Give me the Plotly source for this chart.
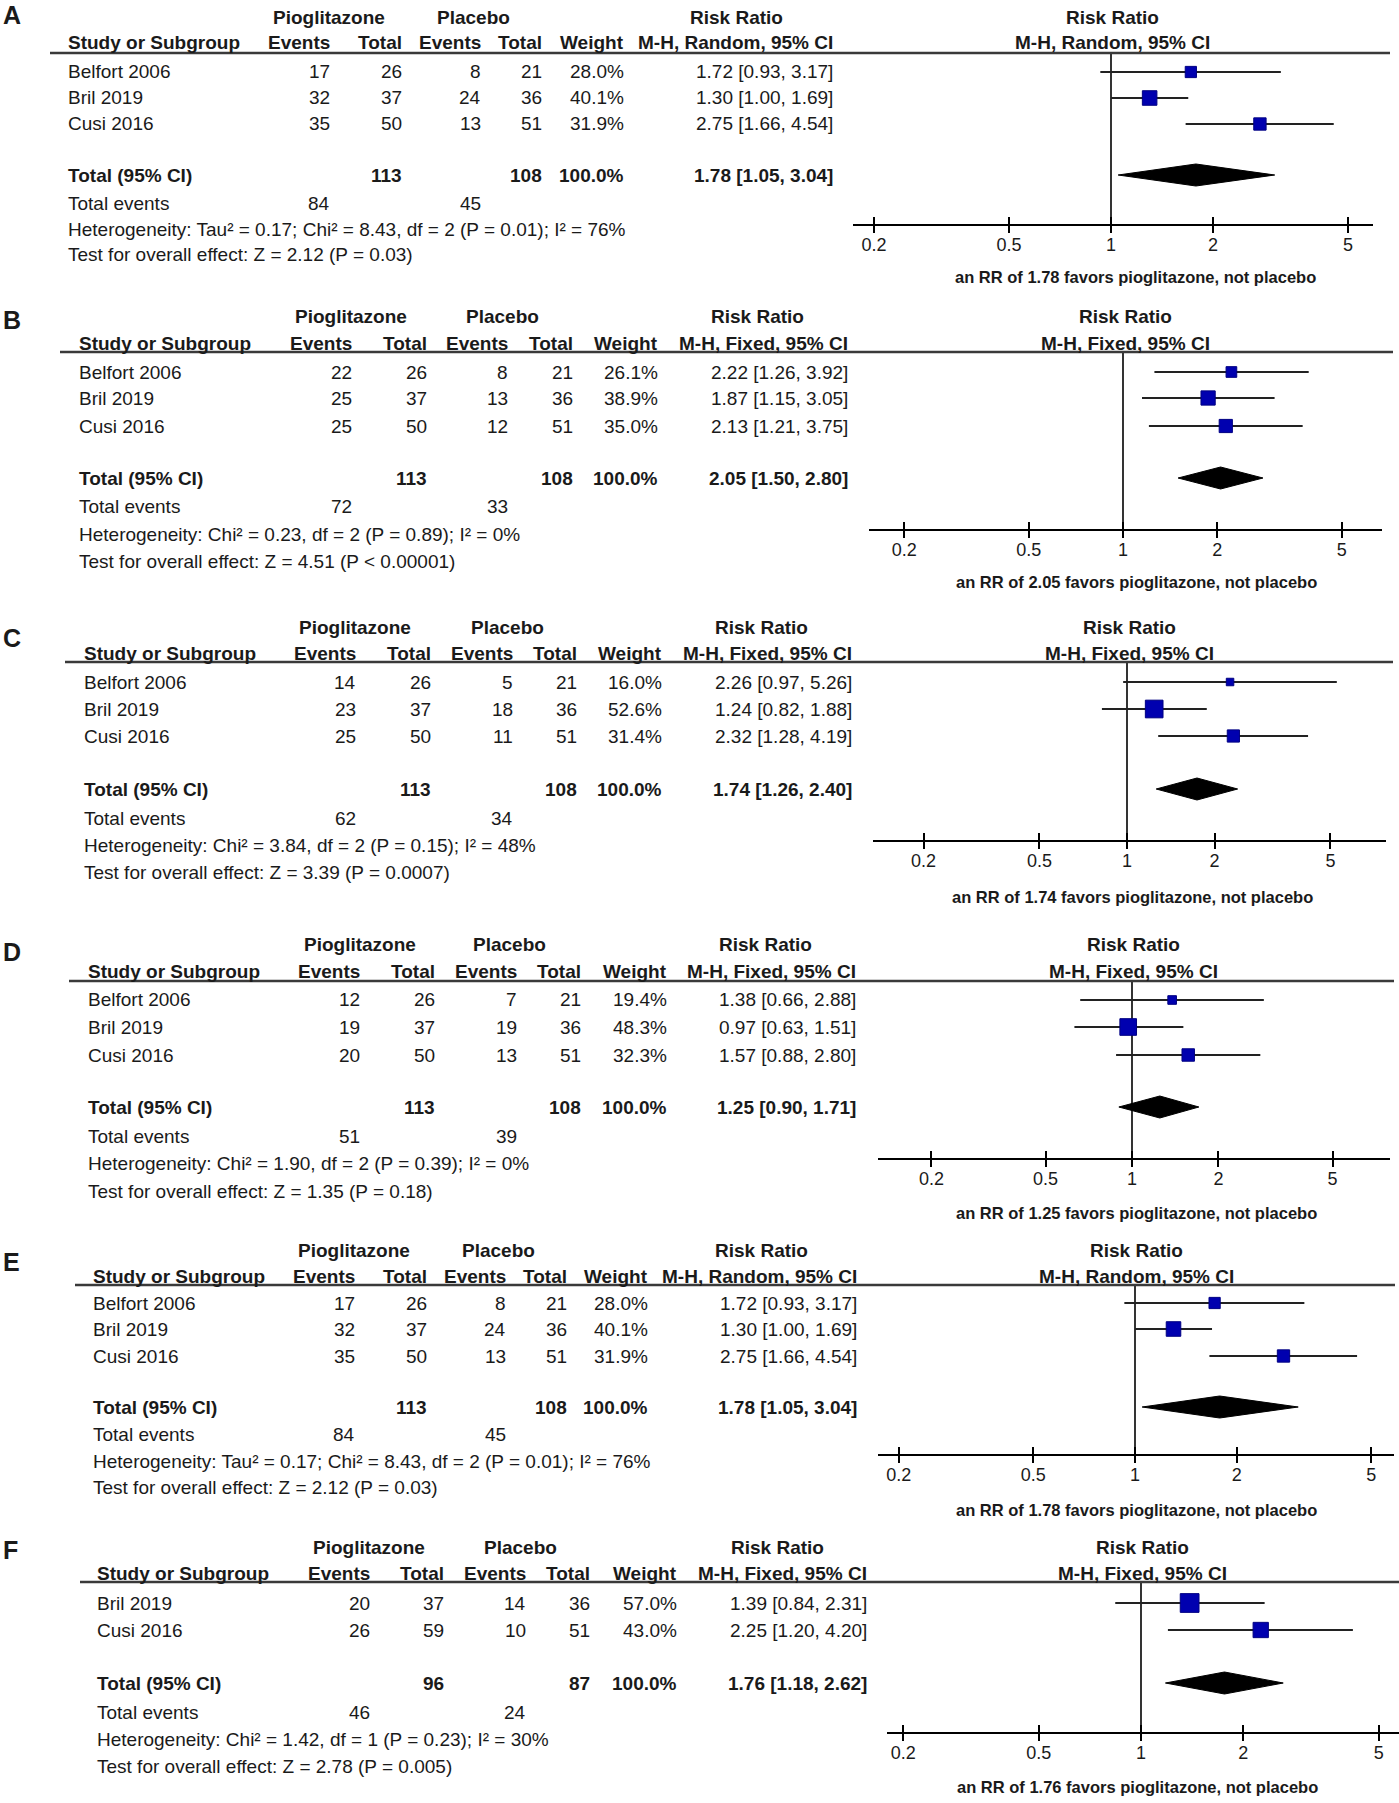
import plotly.graph_objects as go

W, H = 1399, 1803

# ------------------------------------------------------------------ data
tick_vals = [0.2, 0.5, 1, 2, 5]
tick_text = ["0.2", "0.5", "1", "2", "5"]

# Panel A
studies_A = ["Belfort 2006", "Bril 2019", "Cusi 2016"]
pio_events_A = [17, 32, 35]
pio_total_A = [26, 37, 50]
plc_events_A = [8, 24, 13]
plc_total_A = [21, 36, 51]
weight_A = [28.0, 40.1, 31.9]
rr_A = [1.72, 1.30, 2.75]
rr_lo_A = [0.93, 1.00, 1.66]
rr_hi_A = [3.17, 1.69, 4.54]
pooled_A = [1.78, 1.05, 3.04]
sums_A = [113, 108]
events_A = [84, 45]
method_A = "M-H, Random, 95% CI"
het_A = "Heterogeneity: Tau² = 0.17; Chi² = 8.43, df = 2 (P = 0.01); I² = 76%"
test_A = "Test for overall effect: Z = 2.12 (P = 0.03)"

# Panel B
studies_B = ["Belfort 2006", "Bril 2019", "Cusi 2016"]
pio_events_B = [22, 25, 25]
pio_total_B = [26, 37, 50]
plc_events_B = [8, 13, 12]
plc_total_B = [21, 36, 51]
weight_B = [26.1, 38.9, 35.0]
rr_B = [2.22, 1.87, 2.13]
rr_lo_B = [1.26, 1.15, 1.21]
rr_hi_B = [3.92, 3.05, 3.75]
pooled_B = [2.05, 1.50, 2.80]
sums_B = [113, 108]
events_B = [72, 33]
method_B = "M-H, Fixed, 95% CI"
het_B = "Heterogeneity: Chi² = 0.23, df = 2 (P = 0.89); I² = 0%"
test_B = "Test for overall effect: Z = 4.51 (P < 0.00001)"

# Panel C
studies_C = ["Belfort 2006", "Bril 2019", "Cusi 2016"]
pio_events_C = [14, 23, 25]
pio_total_C = [26, 37, 50]
plc_events_C = [5, 18, 11]
plc_total_C = [21, 36, 51]
weight_C = [16.0, 52.6, 31.4]
rr_C = [2.26, 1.24, 2.32]
rr_lo_C = [0.97, 0.82, 1.28]
rr_hi_C = [5.26, 1.88, 4.19]
pooled_C = [1.74, 1.26, 2.40]
sums_C = [113, 108]
events_C = [62, 34]
method_C = "M-H, Fixed, 95% CI"
het_C = "Heterogeneity: Chi² = 3.84, df = 2 (P = 0.15); I² = 48%"
test_C = "Test for overall effect: Z = 3.39 (P = 0.0007)"

# Panel D
studies_D = ["Belfort 2006", "Bril 2019", "Cusi 2016"]
pio_events_D = [12, 19, 20]
pio_total_D = [26, 37, 50]
plc_events_D = [7, 19, 13]
plc_total_D = [21, 36, 51]
weight_D = [19.4, 48.3, 32.3]
rr_D = [1.38, 0.97, 1.57]
rr_lo_D = [0.66, 0.63, 0.88]
rr_hi_D = [2.88, 1.51, 2.80]
pooled_D = [1.25, 0.90, 1.71]
sums_D = [113, 108]
events_D = [51, 39]
method_D = "M-H, Fixed, 95% CI"
het_D = "Heterogeneity: Chi² = 1.90, df = 2 (P = 0.39); I² = 0%"
test_D = "Test for overall effect: Z = 1.35 (P = 0.18)"

# Panel E
studies_E = ["Belfort 2006", "Bril 2019", "Cusi 2016"]
pio_events_E = [17, 32, 35]
pio_total_E = [26, 37, 50]
plc_events_E = [8, 24, 13]
plc_total_E = [21, 36, 51]
weight_E = [28.0, 40.1, 31.9]
rr_E = [1.72, 1.30, 2.75]
rr_lo_E = [0.93, 1.00, 1.66]
rr_hi_E = [3.17, 1.69, 4.54]
pooled_E = [1.78, 1.05, 3.04]
sums_E = [113, 108]
events_E = [84, 45]
method_E = "M-H, Random, 95% CI"
het_E = "Heterogeneity: Tau² = 0.17; Chi² = 8.43, df = 2 (P = 0.01); I² = 76%"
test_E = "Test for overall effect: Z = 2.12 (P = 0.03)"

# Panel F
studies_F = ["Bril 2019", "Cusi 2016"]
pio_events_F = [20, 26]
pio_total_F = [37, 59]
plc_events_F = [14, 10]
plc_total_F = [36, 51]
weight_F = [57.0, 43.0]
rr_F = [1.39, 2.25]
rr_lo_F = [0.84, 1.20]
rr_hi_F = [2.31, 4.20]
pooled_F = [1.76, 1.18, 2.62]
sums_F = [96, 87]
events_F = [46, 24]
method_F = "M-H, Fixed, 95% CI"
het_F = "Heterogeneity: Chi² = 1.42, df = 1 (P = 0.23); I² = 30%"
test_F = "Test for overall effect: Z = 2.78 (P = 0.005)"

panels = [
    dict(letter="A", studies=studies_A, pe=pio_events_A, pt=pio_total_A, ce=plc_events_A, ct=plc_total_A,
         w=weight_A, rr=rr_A, lo=rr_lo_A, hi=rr_hi_A, pooled=pooled_A, sums=sums_A, events=events_A,
         method=method_A, het=het_A, test=test_A),
    dict(letter="B", studies=studies_B, pe=pio_events_B, pt=pio_total_B, ce=plc_events_B, ct=plc_total_B,
         w=weight_B, rr=rr_B, lo=rr_lo_B, hi=rr_hi_B, pooled=pooled_B, sums=sums_B, events=events_B,
         method=method_B, het=het_B, test=test_B),
    dict(letter="C", studies=studies_C, pe=pio_events_C, pt=pio_total_C, ce=plc_events_C, ct=plc_total_C,
         w=weight_C, rr=rr_C, lo=rr_lo_C, hi=rr_hi_C, pooled=pooled_C, sums=sums_C, events=events_C,
         method=method_C, het=het_C, test=test_C),
    dict(letter="D", studies=studies_D, pe=pio_events_D, pt=pio_total_D, ce=plc_events_D, ct=plc_total_D,
         w=weight_D, rr=rr_D, lo=rr_lo_D, hi=rr_hi_D, pooled=pooled_D, sums=sums_D, events=events_D,
         method=method_D, het=het_D, test=test_D),
    dict(letter="E", studies=studies_E, pe=pio_events_E, pt=pio_total_E, ce=plc_events_E, ct=plc_total_E,
         w=weight_E, rr=rr_E, lo=rr_lo_E, hi=rr_hi_E, pooled=pooled_E, sums=sums_E, events=events_E,
         method=method_E, het=het_E, test=test_E),
    dict(letter="F", studies=studies_F, pe=pio_events_F, pt=pio_total_F, ce=plc_events_F, ct=plc_total_F,
         w=weight_F, rr=rr_F, lo=rr_lo_F, hi=rr_hi_F, pooled=pooled_F, sums=sums_F, events=events_F,
         method=method_F, het=het_F, test=test_F),
]

# ------------------------------------------------------------------ layout geometry (pixels)
geoms = [
    dict(letter=15, top=18, hdr=43, line=53, rows=[72, 98, 124], total=175, tev=203, het=229, test=255,
         axis=224, footer=277, x0=50, x_end=1390, study=66, cols=[332, 404, 483, 544, 626, 835],
         pio=329, plc=474, rrh=737, x1=1111, scale=339, ax_lo=853, ax_hi=1373, hdr_cx=1112, foot_cx=1135),
    dict(letter=320, top=316, hdr=343, line=352, rows=[372, 398, 426], total=478, tev=507, het=535, test=562,
         axis=529, footer=582, x0=60, x_end=1393, study=77, cols=[354, 429, 510, 575, 660, 850],
         pio=351, plc=502, rrh=757, x1=1123, scale=313, ax_lo=869, ax_hi=1382, hdr_cx=1125, foot_cx=1136),
    dict(letter=638, top=627, hdr=653, line=662, rows=[682, 709, 736], total=789, tev=818, het=845, test=872,
         axis=840, footer=897, x0=65, x_end=1393, study=82, cols=[358, 433, 515, 579, 664, 854],
         pio=355, plc=507, rrh=761, x1=1127, scale=291, ax_lo=873, ax_hi=1386, hdr_cx=1129, foot_cx=1132),
    dict(letter=952, top=944, hdr=972, line=981, rows=[1000, 1027, 1055], total=1107, tev=1136, het=1163, test=1191,
         axis=1158, footer=1213, x0=69, x_end=1394, study=86, cols=[362, 437, 519, 583, 669, 858],
         pio=360, plc=510, rrh=765, x1=1132, scale=287, ax_lo=878, ax_hi=1390, hdr_cx=1133, foot_cx=1136),
    dict(letter=1262, top=1250, hdr=1276, line=1285, rows=[1303, 1329, 1356], total=1407, tev=1434, het=1461, test=1487,
         axis=1454, footer=1510, x0=75, x_end=1395, study=91, cols=[357, 429, 508, 569, 650, 859],
         pio=354, plc=498, rrh=761, x1=1135, scale=338, ax_lo=878, ax_hi=1394, hdr_cx=1136, foot_cx=1136),
    dict(letter=1550, top=1547, hdr=1573, line=1582, rows=[1603, 1630], total=1683, tev=1712, het=1739, test=1766,
         axis=1732, footer=1787, x0=80, x_end=1399, study=95, cols=[372, 446, 528, 592, 679, 869],
         pio=369, plc=520, rrh=777, x1=1141, scale=340, ax_lo=887, ax_hi=1399, hdr_cx=1142, foot_cx=1137),
]

FONT = "Liberation Sans, Arial, Helvetica, sans-serif"
TXT = "#1a1a1a"
BODY = 19
BLUE = "rgb(0,0,175)"

annotations = []
shapes = []
layout_axes = {}
fig = go.Figure()


def px(x):
    return x / W


def py(y):
    return 1 - y / H


def text(x, y, s, anchor="left", bold=False, size=BODY):
    annotations.append(dict(
        x=px(x), y=py(y), xref="paper", yref="paper",
        text=f"<b>{s}</b>" if bold else s, showarrow=False,
        xanchor=anchor, yanchor="middle",
        font=dict(family=FONT, size=size, color=TXT)))


for k, (p, g) in enumerate(zip(panels, geoms), start=1):
    xa = "x" if k == 1 else f"x{k}"
    ya = "y" if k == 1 else f"y{k}"
    xo = f"x{k + 6}"
    lo_log = (g["ax_lo"] - g["x1"]) / g["scale"]
    hi_log = (g["ax_hi"] - g["x1"]) / g["scale"]
    dom = [g["ax_lo"] / W, min(g["ax_hi"] / W, 1.0)]
    common = dict(type="log", range=[lo_log, hi_log], domain=dom, showgrid=False, zeroline=False,
                  fixedrange=True, tickvals=tick_vals, ticktext=tick_text)
    layout_axes["xaxis" if k == 1 else f"xaxis{k}"] = dict(
        common, anchor=ya, showline=True, linecolor="black", linewidth=2,
        ticks="outside", ticklen=7, tickwidth=2, tickcolor="black", ticklabelstandoff=-4,
        tickfont=dict(family=FONT, size=18, color=TXT))
    layout_axes[f"xaxis{k + 6}"] = dict(
        common, anchor=ya, overlaying=xa, showline=False, ticks="inside", ticklen=7,
        tickwidth=2, tickcolor="black", showticklabels=False)
    layout_axes["yaxis" if k == 1 else f"yaxis{k}"] = dict(
        domain=[1 - g["axis"] / H, 1 - g["line"] / H], range=[g["axis"], g["line"]],
        anchor=xa, visible=False, fixedrange=True)

    # dummy to activate overlay axis
    fig.add_trace(go.Scatter(x=[1], y=[g["axis"]], xaxis=xo, yaxis=ya, mode="markers",
                             marker=dict(opacity=0), hoverinfo="skip", showlegend=False))

    # line of no effect
    fig.add_trace(go.Scatter(x=[1, 1], y=[g["line"], g["axis"]], xaxis=xa, yaxis=ya, mode="lines",
                             line=dict(color="black", width=1.6), hoverinfo="skip", showlegend=False))

    # confidence intervals
    cx, cy = [], []
    for lo, hi, yy in zip(p["lo"], p["hi"], g["rows"]):
        cx += [lo, hi, None]
        cy += [yy, yy, None]
    fig.add_trace(go.Scatter(x=cx, y=cy, xaxis=xa, yaxis=ya, mode="lines",
                             line=dict(color="#222222", width=2), hoverinfo="skip", showlegend=False))

    # study boxes
    fig.add_trace(go.Scatter(
        x=p["rr"], y=g["rows"], xaxis=xa, yaxis=ya, mode="markers", cliponaxis=False,
        marker=dict(symbol="square", size=[1.02 * w ** 0.72 for w in p["w"]], color=BLUE, opacity=1,
                    line=dict(color="rgb(0,0,130)", width=1)),
        hoverinfo="skip", showlegend=False))

    # pooled diamond
    est, plo, phi = p["pooled"]
    ty = g["total"]
    fig.add_trace(go.Scatter(
        x=[plo, est, phi, est, plo], y=[ty, ty - 11, ty, ty + 11, ty], xaxis=xa, yaxis=ya,
        mode="lines", fill="toself", fillcolor="black", line=dict(color="black", width=1),
        hoverinfo="skip", showlegend=False))

    # header underline
    shapes.append(dict(type="line", xref="paper", yref="paper", x0=px(g["x0"]), x1=px(g["x_end"]),
                       y0=py(g["line"]), y1=py(g["line"]), line=dict(color="#3a3a3a", width=2.5)))

    # texts
    c = g["cols"]
    text(1, g["letter"], p["letter"], bold=True, size=25)
    text(g["pio"], g["top"], "Pioglitazone", "center", True)
    text(g["plc"], g["top"], "Placebo", "center", True)
    text(g["rrh"], g["top"], "Risk Ratio", "center", True)
    text(g["hdr_cx"], g["top"], "Risk Ratio", "center", True)
    text(g["hdr_cx"], g["hdr"], p["method"], "center", True)
    text(g["study"], g["hdr"], "Study or Subgroup", "left", True)
    for col, lab in zip(c, ["Events", "Total", "Events", "Total", "Weight", p["method"]]):
        text(col, g["hdr"], lab, "right", True)
    for i, yy in enumerate(g["rows"]):
        text(g["study"], yy, p["studies"][i])
        text(c[0], yy, str(p["pe"][i]), "right")
        text(c[1], yy, str(p["pt"][i]), "right")
        text(c[2], yy, str(p["ce"][i]), "right")
        text(c[3], yy, str(p["ct"][i]), "right")
        text(c[4], yy, f"{p['w'][i]:.1f}%", "right")
        text(c[5], yy, f"{p['rr'][i]:.2f} [{p['lo'][i]:.2f}, {p['hi'][i]:.2f}]", "right")
    text(g["study"], g["total"], "Total (95% CI)", "left", True)
    text(c[1], g["total"], str(p["sums"][0]), "right", True)
    text(c[3], g["total"], str(p["sums"][1]), "right", True)
    text(c[4], g["total"], f"{sum(p['w']):.1f}%", "right", True)
    text(c[5], g["total"], f"{est:.2f} [{plo:.2f}, {phi:.2f}]", "right", True)
    text(g["study"], g["tev"], "Total events")
    text(c[0], g["tev"], str(p["events"][0]), "right")
    text(c[2], g["tev"], str(p["events"][1]), "right")
    text(g["study"], g["het"], p["het"])
    text(g["study"], g["test"], p["test"])
    text(g["foot_cx"], g["footer"], f"an RR of {est:.2f} favors pioglitazone, not placebo",
         "center", True, size=16.5)

fig.update_layout(
    width=W, height=H, margin=dict(l=0, r=0, t=0, b=0),
    paper_bgcolor="white", plot_bgcolor="rgba(0,0,0,0)",
    showlegend=False, annotations=annotations, shapes=shapes,
    font=dict(family=FONT, color=TXT), **layout_axes)

fig.write_html(
    "out.html",
    config={"displayModeBar": False},
    post_script="document.body.style.margin='0px';document.body.style.overflow='hidden';")
